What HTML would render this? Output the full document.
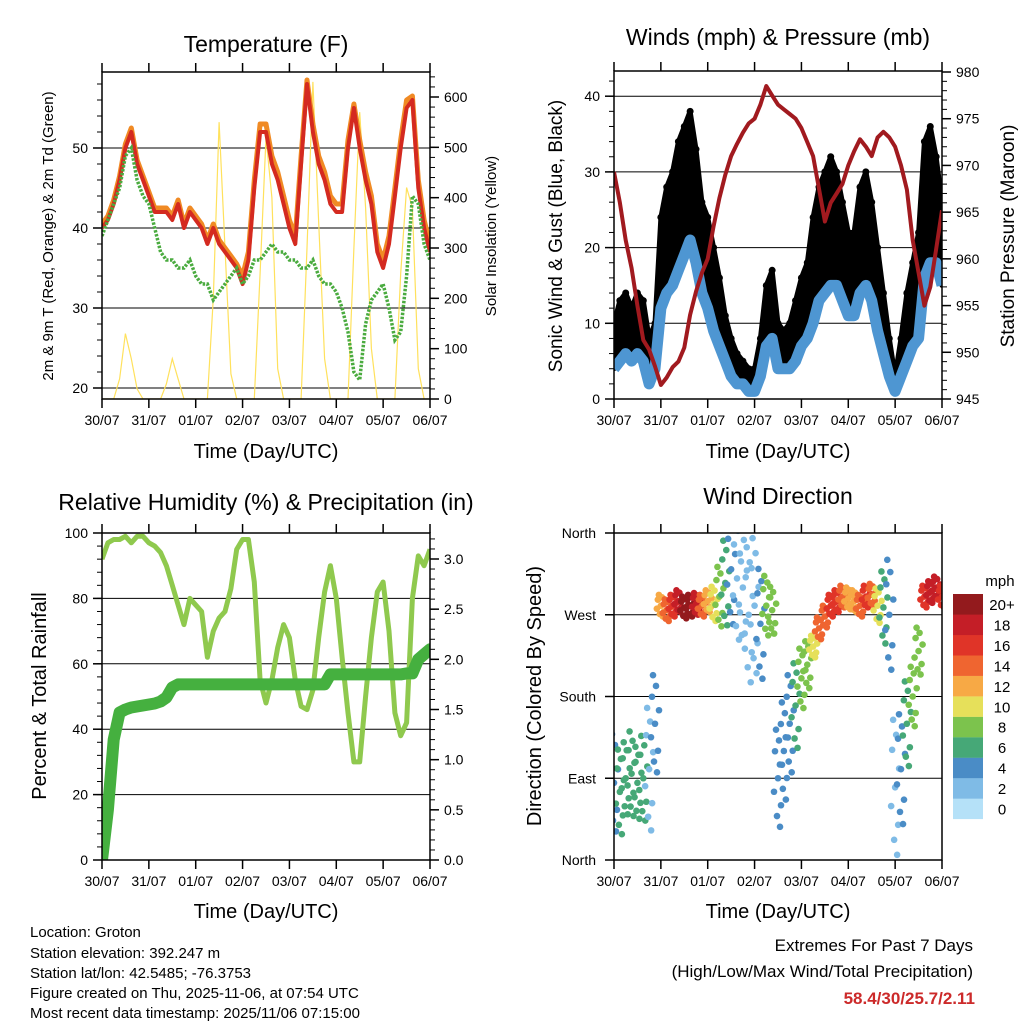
<!DOCTYPE html>
<html><head><meta charset="utf-8"><title>Weather Station Summary</title>
<style>
html,body{margin:0;padding:0;background:#fff;}
svg{display:block;font-family:"Liberation Sans",Arial,sans-serif;}
</style></head>
<body>
<svg id="chart" width="1024" height="1024" viewBox="0 0 1024 1024" xmlns="http://www.w3.org/2000/svg">
<rect x="0" y="0" width="1024" height="1024" fill="#fff"/>
<text x="266" y="52" font-size="23" text-anchor="middle">Temperature (F)</text>
<text x="778" y="45" font-size="23" text-anchor="middle">Winds (mph) &amp; Pressure (mb)</text>
<text x="266" y="510" font-size="23" text-anchor="middle">Relative Humidity (%) &amp; Precipitation (in)</text>
<text x="778" y="504" font-size="23" text-anchor="middle">Wind Direction</text>
<text x="266" y="458" font-size="20" text-anchor="middle">Time (Day/UTC)</text>
<text x="778" y="458" font-size="20" text-anchor="middle">Time (Day/UTC)</text>
<text x="266" y="918" font-size="20" text-anchor="middle">Time (Day/UTC)</text>
<text x="778" y="918" font-size="20" text-anchor="middle">Time (Day/UTC)</text>
<text transform="translate(53,236) rotate(-90)" font-size="15" text-anchor="middle">2m &amp; 9m T (Red, Orange) &amp; 2m Td (Green)</text>
<text transform="translate(496,236) rotate(-90)" font-size="15" text-anchor="middle">Solar Insolation (Yellow)</text>
<text transform="translate(562,236) rotate(-90)" font-size="19" text-anchor="middle">Sonic Wind &amp; Gust (Blue, Black)</text>
<text transform="translate(1014,236) rotate(-90)" font-size="19" text-anchor="middle">Station Pressure (Maroon)</text>
<text transform="translate(46,696) rotate(-90)" font-size="20" text-anchor="middle">Percent &amp; Total Rainfall</text>
<text transform="translate(541,696) rotate(-90)" font-size="20" text-anchor="middle">Direction (Colored By Speed)</text>
<g font-size="15">
<text x="30" y="937">Location: Groton</text>
<text x="30" y="958">Station elevation: 392.247 m</text>
<text x="30" y="978">Station lat/lon: 42.5485; -76.3753</text>
<text x="30" y="998">Figure created on Thu, 2025-11-06, at 07:54 UTC</text>
<text x="30" y="1018">Most recent data timestamp: 2025/11/06 07:15:00</text>
</g>
<text x="973" y="951" font-size="17" text-anchor="end">Extremes For Past 7 Days</text>
<text x="973" y="977" font-size="17" text-anchor="end">(High/Low/Max Wind/Total Precipitation)</text>
<text x="975" y="1004" font-size="17" font-weight="bold" fill="#cc2a2a" text-anchor="end">58.4/30/25.7/2.11</text>
<text x="1000" y="586" font-size="15" text-anchor="middle">mph</text>
</svg>
<script>
const dayLabels = ["30/07","31/07","01/07","02/07","03/07","04/07","05/07","06/07"];
const tempT2 = [40,41,43,46,50,52,48,46,44,42,42,42,41,43,40,42,41,40,38,40,38,37,36,35,33,36,45,52,52,48,46,43,40,38,48,58,52,48,46,43,42,42,50,55,50,46,43,37,35,38,44,50,55,56,45,40,37];
const tempT9 = [40.5,41.5,43.5,46.5,50.5,52.5,48.5,46.5,44.5,42.5,42.5,42.5,41.5,43.5,40.5,42.5,41.5,40.5,38.5,40.5,38.5,37.5,36.5,35.5,34,37,46,53,53,49,47,44,41,39,49,58.5,53,49,47,44,43,43,51,55.5,51,47,44,38,36,39,45,51,56,56.5,46,41,38];
const dewTd = [39,41,43,45,49,50,46,44,43,40,37,36,36,35,35,36,34,33,33,31,32,33,34,35,33,34,36,36,37,38,37,37,36,36,35,35,36,34,33,33,32,30,27,22,21,28,31,32,33,30,26,27,34,44,43,38,36];
const solar = [0,0,0,40,130,80,20,0,0,0,0,30,80,40,0,0,0,0,0,200,550,300,50,0,0,0,0,250,520,400,60,0,0,0,0,300,630,350,80,0,0,0,0,300,570,380,100,0,0,0,0,250,420,380,60,0,0];
const windSust = [4,5,6,5,6,5,2,4,12,14,15,17,19,21,18,14,12,9,7,5,3,2,2,1,1,3,7,8,4,4,4,5,7,8,10,13,14,15,15,13,11,11,14,15,13,9,6,3,1,3,5,7,8,16,18,18,15];
const windGust = [10,13,14,12,14,13,8,10,24,28,30,34,36,38,33,26,24,20,16,11,8,6,5,4,4,8,15,17,10,9,10,13,16,18,24,28,30,32,30,26,22,22,28,30,26,20,14,8,3,8,14,18,22,34,36,32,26];
const pressure = [969.3,966,962,959,955,951.3,950.3,948.5,946.5,947.3,948.4,949,950.5,954,956.5,958.5,960,963.5,966.5,969,971,972.3,973.5,974.5,975,976.5,978.5,977.5,976.5,976,975.5,975,974,972.5,971,967.5,964,966,967,968,970,971.5,972.8,972,971,973,973.6,973,972,970,967.4,962,958.5,955,957,961,965.2];
const relHum = [92,97,98,98,99,97,99,99,97,96,94,90,84,78,72,80,78,76,62,70,74,76,83,95,98,98,85,55,48,55,65,72,68,55,47,46,52,68,82,90,80,62,45,30,30,50,68,82,85,70,45,38,42,80,93,90,95];
const rainTotal = [0,0.5,1.2,1.47,1.5,1.52,1.53,1.54,1.55,1.56,1.58,1.62,1.72,1.75,1.75,1.75,1.75,1.75,1.75,1.75,1.75,1.75,1.75,1.75,1.75,1.75,1.75,1.75,1.75,1.75,1.75,1.75,1.75,1.75,1.75,1.75,1.75,1.75,1.75,1.85,1.85,1.85,1.85,1.85,1.85,1.85,1.85,1.85,1.85,1.85,1.85,1.85,1.86,1.86,2.0,2.05,2.1];
const windDir = [85,75,90,95,85,90,100,150,280,275,280,285,278,280,282,280,285,282,290,305,320,310,300,270,280,260,280,275,90,120,150,170,200,215,235,255,268,280,285,290,288,285,280,290,292,280,278,270,80,100,150,180,230,290,295,300,290];
const speedBins = ["0","2","4","6","8","10","12","14","16","18","20+"];
const dirLabels = ["North","East","South","West","North"];

const NS = "http://www.w3.org/2000/svg";
const svg = document.getElementById("chart");
function mk(tag, attrs, parent){ const e=document.createElementNS(NS,tag); for(const k in attrs) e.setAttribute(k,attrs[k]); (parent||svg).appendChild(e); return e; }
const binColors = ["#b5e1f8","#7fbbe6","#4a8cc6","#46a877","#7cc34d","#e6e05a","#f7a945","#ef6530","#e03428","#c41e27","#931a1d"];
// fixed cluster pattern (pixel offsets) for scatter look
const clusterDX = [0,-3,3,-2,2,4,-4,1,-1];
const clusterDY = [0,-0.5,0.5,-0.9,0.9,-0.25,0.25,-0.7,0.7];

const P1 = {x0:102,x1:430,y0:72,y1:399}, P2 = {x0:614,x1:942,y0:71,y1:399}, P3 = {x0:102,x1:430,y0:533,y1:860}, P4 = {x0:614,x1:942,y0:533,y1:860};
const N = tempT2.length;
function xs(P,i){ return P.x0 + (i/(N-1))*(P.x1-P.x0); }
function lin(d0,d1,r0,r1){ return v => r0 + (v-d0)*(r1-r0)/(d1-d0); }
const yT = lin(20,50,388,148), yS = lin(0,600,399,97);
const yW = lin(0,40,399,96.2), yP = lin(945,980,399,72);
const yR = lin(0,100,860,533), yRain = lin(0,3,860,559);
const yD = lin(0,360,860,533);

let cid=0;
function clip(P){ cid++; const cp=mk("clipPath",{id:"c"+cid}); mk("rect",{x:P.x0,y:P.y0,width:P.x1-P.x0,height:P.y1-P.y0},cp); const g=mk("g",{"clip-path":"url(#c"+cid+")"}); return g; }

function grid(P, vals, f, name){
  vals.forEach(v=>{ const y=f(v);
    const l=mk("line",{x1:P.x0,x2:P.x1,y1:y,y2:y,stroke:"#000","stroke-width":1});
    
    
  });
}
function frameAxes(P, name){
  const r=mk("rect",{x:P.x0,y:P.y0,width:P.x1-P.x0,height:P.y1-P.y0,fill:"none",stroke:"#000","stroke-width":1.5});
  
  
  dayLabels.forEach((d,k)=>{
    const x=P.x0+k*(P.x1-P.x0)/7;
    mk("line",{x1:x,x2:x,y1:P.y1,y2:P.y1+9,stroke:"#000","stroke-width":1.5});
    mk("line",{x1:x,x2:x,y1:P.y0,y2:P.y0-9,stroke:"#000","stroke-width":1.5});
    const t=mk("text",{x:x,y:P.y1+26,"font-size":14,"text-anchor":"middle"}); t.textContent=d;
    
    
  });
}
function yAxis(P, side, majors, minors, f, fmt, name){
  const xe = side==="l"?P.x0:P.x1, s = side==="l"?-1:1;
  minors.forEach(v=>{ const y=f(v); if(y<P.y0-0.5||y>P.y1+0.5) return; mk("line",{x1:xe,x2:xe+s*5,y1:y,y2:y,stroke:"#000","stroke-width":1}); });
  majors.forEach(v=>{ const y=f(v);
    mk("line",{x1:xe,x2:xe+s*9,y1:y,y2:y,stroke:"#000","stroke-width":1.5});
    const t=mk("text",{x:xe+s*14,y:y+5,"font-size":14,"text-anchor":side==="l"?"end":"start"}); t.textContent=fmt(v);
    
    
  });
}
function rng(a,b,s){ const r=[]; for(let v=a; v<=b+1e-9; v+=s) r.push(+v.toFixed(3)); return r; }
function pts(P,arr,f){ return arr.map((v,i)=>xs(P,i).toFixed(1)+","+f(v).toFixed(1)).join(" "); }

// Panel 1: temperature
grid(P1,[20,30,40,50],yT,"temperature");
let g1=clip(P1);
let e;
e=mk("polyline",{points:pts(P1,solar,yS),fill:"none",stroke:"#ffe15c","stroke-width":1.2},g1);


e=mk("polyline",{points:pts(P1,tempT9,yT),fill:"none",stroke:"#f08a24","stroke-width":5,"stroke-linejoin":"round"},g1);


e=mk("polyline",{points:pts(P1,tempT2,yT),fill:"none",stroke:"#d42a20","stroke-width":4,"stroke-linejoin":"round"},g1);


e=mk("polyline",{points:pts(P1,dewTd,yT),fill:"none",stroke:"#4aab3f","stroke-width":3.5,"stroke-dasharray":"2.5,1.5"},g1);


frameAxes(P1,"temperature");
yAxis(P1,"l",[20,30,40,50],rng(20,58,2),yT,v=>v,"temperature-y");
yAxis(P1,"r",rng(0,600,100),rng(0,640,20),yS,v=>v,"solar-y");

// Panel 2: winds
grid(P2,[10,20,30,40],yW,"winds");
let g2=clip(P2);
const bandTop = windGust.map((v,i)=>xs(P2,i).toFixed(1)+","+yW(v).toFixed(1));
const bandBot = windSust.map((v,i)=>xs(P2,i).toFixed(1)+","+yW(v).toFixed(1)).reverse();
e=mk("polygon",{points:bandTop.concat(bandBot).join(" "),fill:"#000",stroke:"#000","stroke-width":5,"stroke-linejoin":"round"},g2);


windGust.forEach((v,i)=>{
  const c=mk("circle",{cx:xs(P2,i),cy:yW(v),r:3.5,fill:"#000"},g2);
  
  
});
e=mk("polyline",{points:pts(P2,windSust,yW),fill:"none",stroke:"#4e96d2","stroke-width":11,"stroke-linejoin":"round"},g2);


e=mk("polyline",{points:pts(P2,pressure,yP),fill:"none",stroke:"#a11a1f","stroke-width":4,"stroke-linejoin":"round"},g2);


frameAxes(P2,"winds");
yAxis(P2,"l",[0,10,20,30,40],rng(0,42,2),yW,v=>v,"wind-y");
yAxis(P2,"r",rng(945,980,5),rng(945,980,1),yP,v=>v,"pressure-y");

// Panel 3: humidity & rain
grid(P3,[20,40,60,80],yR,"humidity");
let g3=clip(P3);
e=mk("polyline",{points:pts(P3,relHum,yR),fill:"none",stroke:"#8fc94e","stroke-width":5,"stroke-linejoin":"round"},g3);


e=mk("polyline",{points:pts(P3,rainTotal,yRain),fill:"none",stroke:"#45b03f","stroke-width":12,"stroke-linejoin":"round","stroke-linecap":"round"},g3);


frameAxes(P3,"humidity");
yAxis(P3,"l",rng(0,100,20),rng(0,100,4),yR,v=>v,"humidity-y");
yAxis(P3,"r",rng(0,3,0.5),rng(0,3.2,0.1),yRain,v=>v.toFixed(1),"rain-y");

// Panel 4: wind direction
grid(P4,[90,180,270],yD,"direction");
let g4=clip(P4);
function binOf(v){ return Math.max(0,Math.min(10,Math.floor((v+1)/2))); }
windDir.forEach((v,i)=>{
  const spread = 12 + Math.max(0,10-windSust[i])*7;
  const col = binColors[binOf(windSust[i])];
  clusterDX.forEach((dx,k)=>{
    const c=mk("circle",{cx:xs(P4,i)+dx,cy:yD(v)+clusterDY[k]*spread,r:3.3,fill:col},g4);
    
    
  });
});
frameAxes(P4,"direction");
dirLabels.forEach((lab,k)=>{
  const y=yD(k*90);
  mk("line",{x1:P4.x0,x2:P4.x0-9,y1:y,y2:y,stroke:"#000","stroke-width":1.5});
  const t=mk("text",{x:P4.x0-18,y:y+5,"font-size":14,"text-anchor":"end"}); t.textContent=lab;
  
  
});

// colorbar
speedBins.forEach((lab,k)=>{
  const top = 594 + (10-k)*20.45;
  const r=mk("rect",{x:953,y:top,width:30,height:20.6,fill:binColors[k]});
  
  
  const t=mk("text",{x:1002,y:top+16,"font-size":15,"text-anchor":"middle"}); t.textContent=lab;
  
  
});
</script>
</body></html>
